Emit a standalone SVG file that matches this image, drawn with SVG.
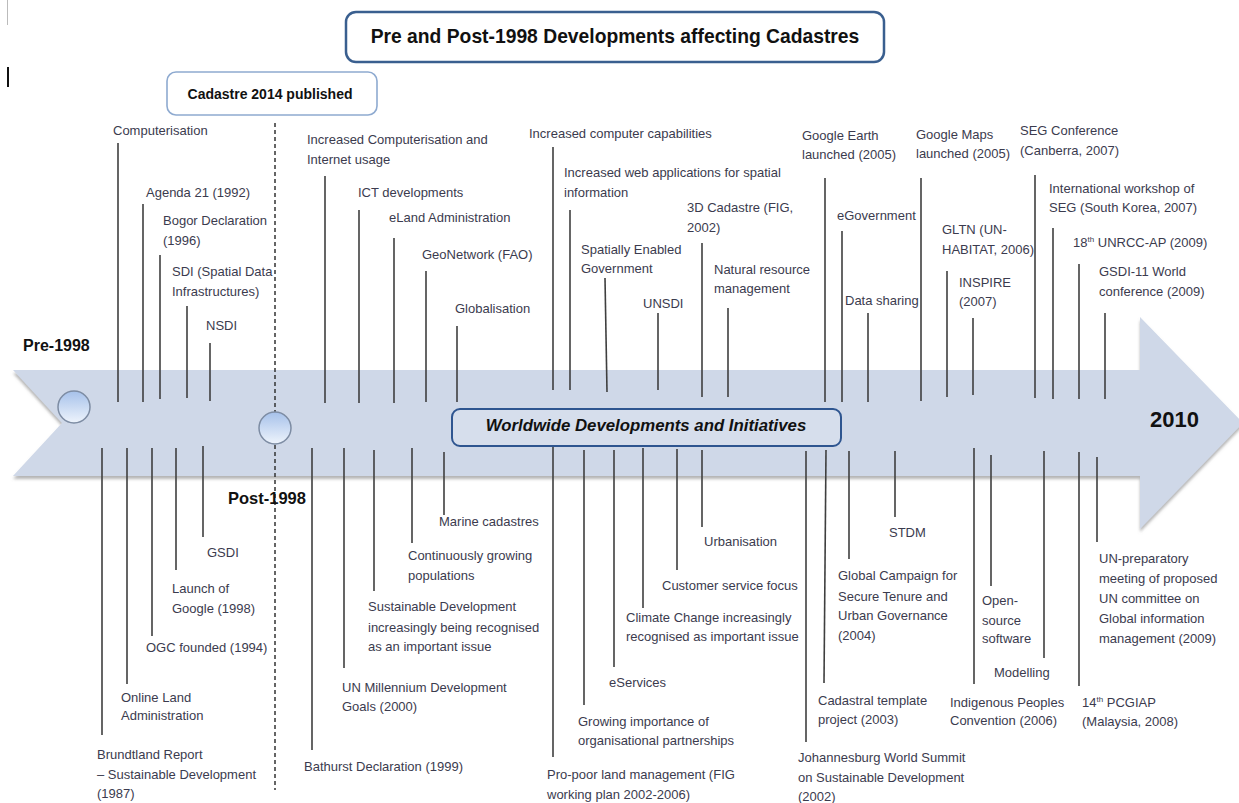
<svg xmlns="http://www.w3.org/2000/svg" width="1239" height="803" viewBox="0 0 1239 803">
<style>
.t{font-family:"Liberation Sans",Arial,sans-serif;font-size:13px;fill:#3b3b4e}
.b{font-family:"Liberation Sans",Arial,sans-serif;font-weight:bold;fill:#111}
.ln{stroke:#3f3f3f;stroke-width:1.6;fill:none}
.sup{font-size:8px}
</style>
<defs>
<linearGradient id="cg" x1="0" y1="0" x2="0" y2="1">
<stop offset="0" stop-color="#a6c1ea"/>
<stop offset="1" stop-color="#eef4fc"/>
</linearGradient>
<filter id="sh" x="-5%" y="-10%" width="110%" height="130%">
<feDropShadow dx="0" dy="3" stdDeviation="1.5" flood-color="#777" flood-opacity="0.55"/>
</filter>
</defs>
<rect width="1239" height="803" fill="#fff"/>
<line x1="7.5" y1="0" x2="7.5" y2="25" stroke="#bbb" stroke-width="1"/>
<line x1="8" y1="67" x2="8" y2="87" stroke="#111" stroke-width="2"/>

<g id="timeline-arrow">
<path d="M13,370 L1140,370 L1140,317 L1243,423 L1140,529 L1140,476 L13,476 L62,423 Z" fill="#cfd8e8" filter="url(#sh)"/>
</g>

<g id="title">
<rect x="346" y="12" width="538" height="50" rx="10" fill="#fff" stroke="#3a5f8f" stroke-width="2.5"/>
<text class="b" x="615" y="43" font-size="19.3" text-anchor="middle">Pre and Post-1998 Developments affecting Cadastres</text>
</g>
<g id="cadastre2014">
<rect x="167" y="72" width="210" height="43" rx="9" fill="#fff" stroke="#8eaad0" stroke-width="1.6"/>
<text class="b" x="270" y="99" font-size="14" text-anchor="middle">Cadastre 2014 published</text>
</g>
<line x1="275" y1="123" x2="275" y2="790" stroke="#333" stroke-width="1.5" stroke-dasharray="4,3"/>

<g id="pre1998"><text class="b" x="23" y="351" font-size="16">Pre-1998</text><circle cx="74" cy="407" r="16" fill="url(#cg)" stroke="#7d8ca3" stroke-width="1.5"/></g>
<g id="post1998"><circle cx="275" cy="428" r="16" fill="url(#cg)" stroke="#7d8ca3" stroke-width="1.5"/><text class="b" x="228" y="504" font-size="16.5">Post-1998</text></g>
<g id="y2010"><text class="b" x="1150" y="427" font-size="22">2010</text></g>
<g id="worldwide">
<rect x="452" y="409" width="389" height="37" rx="8" fill="#d6deec" stroke="#2e5590" stroke-width="2"/>
<text class="b" x="646" y="431" font-size="16.8" font-style="italic" text-anchor="middle">Worldwide Developments and Initiatives</text>
</g>

<g id="connectors">
<line class="ln" x1="118" y1="143" x2="118" y2="402"/>
<line class="ln" x1="143" y1="204" x2="143" y2="402"/>
<line class="ln" x1="160" y1="255" x2="160" y2="399"/>
<line class="ln" x1="187" y1="306" x2="187" y2="398"/>
<line class="ln" x1="210" y1="343" x2="210" y2="401"/>
<line class="ln" x1="325" y1="176" x2="325" y2="403"/>
<line class="ln" x1="359" y1="210" x2="359" y2="403"/>
<line class="ln" x1="394" y1="238" x2="394" y2="403"/>
<line class="ln" x1="426" y1="271" x2="426" y2="402"/>
<line class="ln" x1="457" y1="326" x2="457" y2="402"/>
<line class="ln" x1="553" y1="147" x2="553" y2="390"/>
<line class="ln" x1="570" y1="210" x2="570" y2="390"/>
<line class="ln" x1="605" y1="278" x2="607" y2="392"/>
<line class="ln" x1="658" y1="313" x2="658" y2="390"/>
<line class="ln" x1="702" y1="243" x2="702" y2="397"/>
<line class="ln" x1="728" y1="308" x2="728" y2="397"/>
<line class="ln" x1="825" y1="178" x2="825" y2="402"/>
<line class="ln" x1="842" y1="231" x2="842" y2="402"/>
<line class="ln" x1="868" y1="313" x2="868" y2="402"/>
<line class="ln" x1="921" y1="178" x2="921" y2="401"/>
<line class="ln" x1="947" y1="271" x2="947" y2="397"/>
<line class="ln" x1="973" y1="318" x2="973" y2="395"/>
<line class="ln" x1="1035" y1="175" x2="1035" y2="398"/>
<line class="ln" x1="1053" y1="228" x2="1053" y2="399"/>
<line class="ln" x1="1079" y1="264" x2="1079" y2="399"/>
<line class="ln" x1="1105" y1="313" x2="1105" y2="399"/>

<line class="ln" x1="102" y1="448" x2="102" y2="735"/>
<line class="ln" x1="127" y1="448" x2="127" y2="684"/>
<line class="ln" x1="152" y1="448" x2="152" y2="636"/>
<line class="ln" x1="176" y1="448" x2="176" y2="570"/>
<line class="ln" x1="203" y1="446" x2="203" y2="537"/>
<line class="ln" x1="312" y1="448" x2="312" y2="750"/>
<line class="ln" x1="344" y1="448" x2="344" y2="668"/>
<line class="ln" x1="374" y1="450" x2="374" y2="591"/>
<line class="ln" x1="412" y1="448" x2="412" y2="543"/>
<line class="ln" x1="444" y1="452" x2="444" y2="515"/>
<line class="ln" x1="553" y1="447" x2="553" y2="757"/>
<line class="ln" x1="584" y1="450" x2="584" y2="705"/>
<line class="ln" x1="614" y1="450" x2="614" y2="667"/>
<line class="ln" x1="643" y1="448" x2="643" y2="608"/>
<line class="ln" x1="677" y1="449" x2="677" y2="570"/>
<line class="ln" x1="702" y1="450" x2="702" y2="527"/>
<line class="ln" x1="806" y1="451" x2="806" y2="742"/>
<line class="ln" x1="826" y1="450" x2="824" y2="683"/>
<line class="ln" x1="849" y1="451" x2="849" y2="559"/>
<line class="ln" x1="895" y1="451" x2="895" y2="517"/>
<line class="ln" x1="974" y1="448" x2="974" y2="684"/>
<line class="ln" x1="991" y1="455" x2="991" y2="586"/>
<line class="ln" x1="1044" y1="451" x2="1044" y2="658"/>
<line class="ln" x1="1079" y1="452" x2="1079" y2="686"/>
<line class="ln" x1="1097" y1="457" x2="1097" y2="542"/>
</g>

<g id="n1"><text class="t" x="113" y="135">Computerisation</text></g>
<g id="n2"><text class="t" x="146" y="197">Agenda 21 (1992)</text></g>
<g id="n3"><text class="t" x="163" y="225">Bogor Declaration</text><text class="t" x="163" y="245">(1996)</text></g>
<g id="n4"><text class="t" x="172" y="276">SDI (Spatial Data</text><text class="t" x="172" y="296">Infrastructures)</text></g>
<g id="n5"><text class="t" x="206" y="330">NSDI</text></g>
<g id="n6"><text class="t" x="307" y="144">Increased Computerisation and</text><text class="t" x="307" y="164">Internet usage</text></g>
<g id="n7"><text class="t" x="358" y="197">ICT developments</text></g>
<g id="n8"><text class="t" x="389" y="222">eLand Administration</text></g>
<g id="n9"><text class="t" x="422" y="259">GeoNetwork (FAO)</text></g>
<g id="n10"><text class="t" x="455" y="313">Globalisation</text></g>
<g id="n11"><text class="t" x="529" y="138">Increased computer capabilities</text></g>
<g id="n12"><text class="t" x="564" y="177">Increased web applications for spatial</text><text class="t" x="564" y="197">information</text></g>
<g id="n13"><text class="t" x="581" y="254">Spatially Enabled</text><text class="t" x="581" y="273">Government</text></g>
<g id="n14"><text class="t" x="643" y="308">UNSDI</text></g>
<g id="n15"><text class="t" x="687" y="212">3D Cadastre (FIG,</text><text class="t" x="687" y="232">2002)</text></g>
<g id="n16"><text class="t" x="714" y="274">Natural resource</text><text class="t" x="714" y="293">management</text></g>
<g id="n17"><text class="t" x="802" y="140">Google Earth</text><text class="t" x="802" y="159">launched (2005)</text></g>
<g id="n18"><text class="t" x="837" y="220">eGovernment</text></g>
<g id="n19"><text class="t" x="845" y="305">Data sharing</text></g>
<g id="n20"><text class="t" x="916" y="139">Google Maps</text><text class="t" x="916" y="158">launched (2005)</text></g>
<g id="n21"><text class="t" x="942" y="234">GLTN (UN-</text><text class="t" x="942" y="254">HABITAT, 2006)</text></g>
<g id="n22"><text class="t" x="959" y="287">INSPIRE</text><text class="t" x="959" y="306">(2007)</text></g>
<g id="n23"><text class="t" x="1020" y="135">SEG Conference</text><text class="t" x="1020" y="155">(Canberra, 2007)</text></g>
<g id="n24"><text class="t" x="1049" y="193">International workshop of</text><text class="t" x="1049" y="212">SEG (South Korea, 2007)</text></g>
<g id="n25"><text class="t" x="1073" y="247">18<tspan class="sup" dy="-5">th</tspan><tspan dy="5"> UNRCC-AP (2009)</tspan></text></g>
<g id="n26"><text class="t" x="1099" y="276">GSDI-11 World</text><text class="t" x="1099" y="296">conference (2009)</text></g>

<g id="b1"><text class="t" x="97" y="759">Brundtland Report</text><text class="t" x="97" y="779">– Sustainable Development</text><text class="t" x="97" y="798">(1987)</text></g>
<g id="b2"><text class="t" x="121" y="702">Online Land</text><text class="t" x="121" y="720">Administration</text></g>
<g id="b3"><text class="t" x="146" y="652">OGC founded (1994)</text></g>
<g id="b4"><text class="t" x="172" y="593">Launch of</text><text class="t" x="172" y="613">Google (1998)</text></g>
<g id="b5"><text class="t" x="207" y="557">GSDI</text></g>
<g id="b6"><text class="t" x="304" y="771">Bathurst Declaration (1999)</text></g>
<g id="b7"><text class="t" x="342" y="692">UN Millennium Development</text><text class="t" x="342" y="711">Goals (2000)</text></g>
<g id="b8"><text class="t" x="368" y="611">Sustainable Development</text><text class="t" x="368" y="632">increasingly being recognised</text><text class="t" x="368" y="651">as an important issue</text></g>
<g id="b9"><text class="t" x="408" y="560">Continuously growing</text><text class="t" x="408" y="580">populations</text></g>
<g id="b10"><text class="t" x="439" y="526">Marine cadastres</text></g>
<g id="b11"><text class="t" x="547" y="779">Pro-poor land management (FIG</text><text class="t" x="547" y="799">working plan 2002-2006)</text></g>
<g id="b12"><text class="t" x="578" y="726">Growing importance of</text><text class="t" x="578" y="745">organisational partnerships</text></g>
<g id="b13"><text class="t" x="609" y="687">eServices</text></g>
<g id="b14"><text class="t" x="626" y="622">Climate Change increasingly</text><text class="t" x="626" y="641">recognised as important issue</text></g>
<g id="b15"><text class="t" x="662" y="590">Customer service focus</text></g>
<g id="b16"><text class="t" x="704" y="546">Urbanisation</text></g>
<g id="b17"><text class="t" x="798" y="762">Johannesburg World Summit</text><text class="t" x="798" y="782">on Sustainable Development</text><text class="t" x="798" y="801">(2002)</text></g>
<g id="b18"><text class="t" x="818" y="705">Cadastral template</text><text class="t" x="818" y="724">project (2003)</text></g>
<g id="b19"><text class="t" x="838" y="580">Global Campaign for</text><text class="t" x="838" y="601">Secure Tenure and</text><text class="t" x="838" y="620">Urban Governance</text><text class="t" x="838" y="640">(2004)</text></g>
<g id="b20"><text class="t" x="889" y="537">STDM</text></g>
<g id="b21"><text class="t" x="950" y="707">Indigenous Peoples</text><text class="t" x="950" y="725">Convention (2006)</text></g>
<g id="b22"><text class="t" x="982" y="605">Open-</text><text class="t" x="982" y="625">source</text><text class="t" x="982" y="643">software</text></g>
<g id="b23"><text class="t" x="994" y="677">Modelling</text></g>
<g id="b24"><text class="t" x="1082" y="707">14<tspan class="sup" dy="-5">th</tspan><tspan dy="5"> PCGIAP</tspan></text><text class="t" x="1082" y="726">(Malaysia, 2008)</text></g>
<g id="b25"><text class="t" x="1099" y="563">UN-preparatory</text><text class="t" x="1099" y="583">meeting of proposed</text><text class="t" x="1099" y="603">UN committee on</text><text class="t" x="1099" y="623">Global information</text><text class="t" x="1099" y="643">management (2009)</text></g>
</svg>
